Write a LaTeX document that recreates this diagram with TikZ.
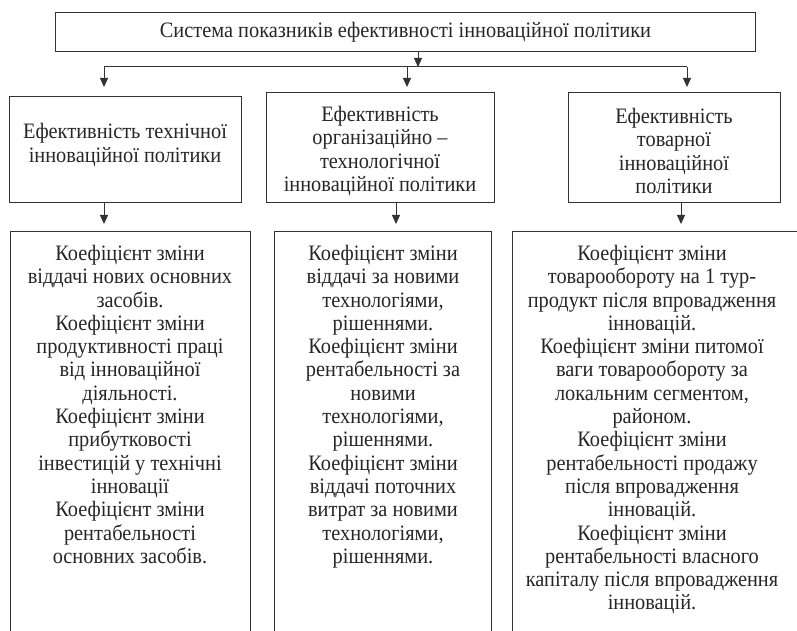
\documentclass[tikz,border=0pt]{standalone}
\usepackage{fontspec}
\setmainfont[FakeStretch=0.925]{Liberation Serif}
\usetikzlibrary{arrows.meta}
\begin{document}
\begin{tikzpicture}[x=1pt,y=1pt,
  line/.style={draw=black!80, line width=1pt},
  box/.style={line, rectangle, inner sep=0pt, anchor=north west},
  txt/.style={align=center, inner sep=0pt, text=black!85, font=\fontsize{22}{23.3}\selectfont},
  arr/.style={line, -{Triangle[length=9pt,width=8pt]}}]
\useasboundingbox (0,0) rectangle (797,630);
\clip (0,0) rectangle (797,630);
% top box
\node[box, minimum width=700pt, minimum height=39pt] (top) at (55,618) {};
\node[txt] (toptxt) at (top.center) {Система показників ефективності інноваційної політики};
% bus
\coordinate (busM) at (418,563);
\coordinate (busL) at (104,563);
\coordinate (busC) at (407,563);
\coordinate (busR) at (687,563);
\draw[arr] (top.south -| busM) -- (busM);
\draw[line] (busL) -- (busR);
% middle boxes
\node[box, minimum width=232pt, minimum height=106pt] (m1) at (9,534) {};
\node[box, minimum width=228pt, minimum height=110pt] (m2) at (266,538) {};
\node[box, minimum width=212pt, minimum height=110pt] (m3) at (568,538) {};
\node[txt] (m1t) at (125,485) {Ефективність технічної\\інноваційної політики};
\node[txt] (m2t) at (380,479) {Ефективність\\організаційно –\\технологічної\\інноваційної політики};
\node[txt] (m3t) at (674,479) {Ефективність\\товарної\\інноваційної\\політики};
\draw[arr, shorten >=9pt] (busL) -- (busL |- m1.north);
\draw[arr, shorten >=5pt] (busC) -- (busC |- m2.north);
\draw[arr, shorten >=5pt] (busR) -- (busR |- m3.north);
% bottom boxes
\node[box, minimum width=240pt, minimum height=420pt] (b1) at (10,399) {};
\node[box, minimum width=217pt, minimum height=420pt] (b2) at (274,399) {};
\node[box, minimum width=293pt, minimum height=420pt] (b3) at (512,399) {};
\coordinate (d1) at (104,0);
\coordinate (d2) at (396,0);
\coordinate (d3) at (681,0);
\draw[arr, shorten >=7pt] (d1 |- m1.south) -- (d1 |- b1.north);
\draw[arr, shorten >=7pt] (d2 |- m2.south) -- (d2 |- b2.north);
\draw[arr, shorten >=7pt] (d3 |- m3.south) -- (d3 |- b3.north);
\node[txt, anchor=north] (b1t) at (130,385) {Коефіцієнт зміни\\віддачі нових основних\\засобів.\\Коефіцієнт зміни\\продуктивності праці\\від інноваційної\\діяльності.\\Коефіцієнт зміни\\прибутковості\\інвестицій у технічні\\інновації\\Коефіцієнт зміни\\рентабельності\\основних засобів.};
\node[txt, anchor=north] (b2t) at (383,385) {Коефіцієнт зміни\\віддачі за новими\\технологіями,\\рішеннями.\\Коефіцієнт зміни\\рентабельності за\\новими\\технологіями,\\рішеннями.\\Коефіцієнт зміни\\віддачі поточних\\витрат за новими\\технологіями,\\рішеннями.};
\node[txt, anchor=north] (b3t) at (652,385) {Коефіцієнт зміни\\товарообороту на 1 тур-\\продукт після впровадження\\інновацій.\\Коефіцієнт зміни питомої\\ваги товарообороту за\\локальним сегментом,\\районом.\\Коефіцієнт зміни\\рентабельності продажу\\після впровадження\\інновацій.\\Коефіцієнт зміни\\рентабельності власного\\капіталу після впровадження\\інновацій.};
\end{tikzpicture}
\end{document}
